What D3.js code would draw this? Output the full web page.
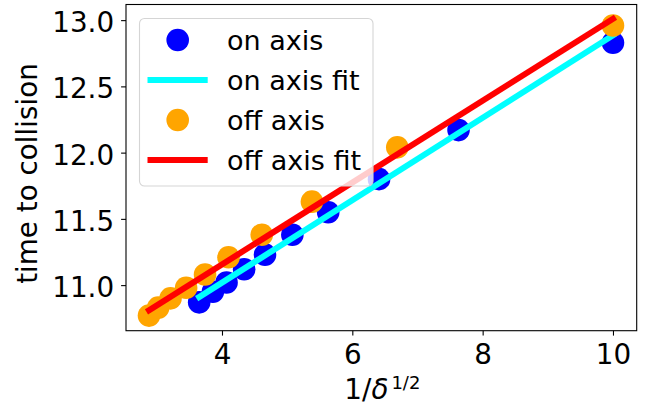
<!DOCTYPE html>
<html>
<head>
<meta charset="utf-8">
<script src="https://cdn.jsdelivr.net/npm/d3@7"></script>
<style>
  body { margin: 0; background: #fff; }
  text { font-family: "DejaVu Sans", sans-serif; }
</style>
</head>
<body>
<script>
// values
var onX  = [3.65, 3.86, 4.07, 4.34, 4.66, 5.08, 5.63, 6.41, 7.63, 10.0];
var onY  = [10.87, 10.95, 11.02, 11.12, 11.23, 11.38, 11.55, 11.80, 12.17, 12.83];
var offX = [2.88, 3.02, 3.21, 3.45, 3.74, 4.10, 4.61, 5.38, 6.69, 10.0];
var offY = [10.77, 10.83, 10.90, 10.98, 11.08, 11.21, 11.38, 11.63, 12.04, 12.96];
var onFitX  = [3.65, 10.0];
var onFitY  = [10.91, 12.885];
var offFitX = [2.88, 10.0];
var offFitY = [10.81, 13.01];
var xTicks = [4, 6, 8, 10];
var yTicks = [11.0, 11.5, 12.0, 12.5, 13.0];
var legendLabels = ["on axis", "on axis fit", "off axis", "off axis fit"];

var width = 660, height = 407;
var margin = { left: 126, top: 4.5, right: 23.3, bottom: 76.3 };
var bodyWidth = width - margin.left - margin.right;
var bodyHeight = height - margin.top - margin.bottom;

var svg = d3.select("body").append("svg")
    .attr("width", width).attr("height", height);
var g = svg.append("g")
    .attr("transform", "translate(" + [margin.left, margin.top] + ")");

var xScale = d3.scaleLinear().domain([2.527, 10.364]).range([0, bodyWidth]);
var yScale = d3.scaleLinear().domain([10.656, 13.118]).range([bodyHeight, 0]);

function zip(xs, ys) {
    return xs.map((x, i) => ({ x: x, y: ys[i] }));
}

var line = d3.line().x(d => xScale(d.x)).y(d => yScale(d.y));
var r = 11.3;

// plotting order: on axis, on axis fit, off axis, off axis fit
g.selectAll(".on").data(zip(onX, onY)).enter().append("circle")
    .attr("cx", d => xScale(d.x)).attr("cy", d => yScale(d.y))
    .attr("r", r).attr("fill", "#0000ff");

g.append("path").datum(zip(onFitX, onFitY))
    .attr("d", line).attr("fill", "none")
    .attr("stroke", "#00ffff").attr("stroke-width", 6)
    .attr("stroke-linecap", "square");

g.selectAll(".off").data(zip(offX, offY)).enter().append("circle")
    .attr("cx", d => xScale(d.x)).attr("cy", d => yScale(d.y))
    .attr("r", r).attr("fill", "#ffa500");

g.append("path").datum(zip(offFitX, offFitY))
    .attr("d", line).attr("fill", "none")
    .attr("stroke", "#ff0000").attr("stroke-width", 6)
    .attr("stroke-linecap", "square");

// axes
var axisX = d3.axisBottom(xScale).tickValues(xTicks).tickSize(4.9).tickPadding(9)
    .tickFormat(d3.format("d"));
var gx = g.append("g").attr("transform", "translate(0," + bodyHeight + ")").call(axisX);
gx.select(".domain").remove();
gx.selectAll("text").style("font-size", "27.8px").attr("fill", "#000");

var axisY = d3.axisLeft(yScale).tickValues(yTicks).tickSize(4.9).tickPadding(7)
    .tickFormat(d3.format(".1f"));
var gy = g.append("g").call(axisY);
gy.select(".domain").remove();
gy.selectAll("text").style("font-size", "27.8px").attr("fill", "#000").attr("dy", "0.41em");
g.selectAll(".tick line").attr("stroke", "#000").attr("stroke-width", 1.1);

// frame
g.append("rect").attr("x", 0).attr("y", 0)
    .attr("width", bodyWidth).attr("height", bodyHeight)
    .attr("fill", "none").attr("stroke", "#000").attr("stroke-width", 1.1);

// axis labels
var xl = svg.append("text")
    .attr("x", margin.left + bodyWidth / 2 + 1).attr("y", 398.5)
    .attr("text-anchor", "middle").style("font-size", "27.8px");
xl.append("tspan").text("1/");
xl.append("tspan").style("font-style", "italic").text("δ");
xl.append("tspan").attr("dx", 3).attr("dy", -10).style("font-size", "18px").text("1/2");

svg.append("text")
    .attr("transform", "translate(37,173.5) rotate(-90)")
    .attr("text-anchor", "middle").style("font-size", "27.8px")
    .text("time to collision");

// legend
var leg = svg.append("g");
leg.append("rect").attr("x", 139.5).attr("y", 18.5)
    .attr("width", 233.5).attr("height", 167.5).attr("rx", 5)
    .attr("fill", "rgba(255,255,255,0.8)").attr("stroke", "#d5d5d5").attr("stroke-width", 1.1);

var legendStyles = [
    { type: "dot", color: "#0000ff" },
    { type: "line", color: "#00ffff" },
    { type: "dot", color: "#ffa500" },
    { type: "line", color: "#ff0000" }
];
legendLabels.forEach((label, i) => {
    var cy = 40 + i * 40;
    var s = legendStyles[i];
    if (s.type === "dot") {
        leg.append("circle").attr("cx", 177.7).attr("cy", cy).attr("r", r).attr("fill", s.color);
    } else {
        leg.append("line").attr("x1", 147.5).attr("x2", 207.7).attr("y1", cy).attr("y2", cy)
            .attr("stroke", s.color).attr("stroke-width", 6);
    }
    leg.append("text").attr("x", 227).attr("y", cy + 10)
        .style("font-size", "27px").text(label);
});
</script>
</body>
</html>
